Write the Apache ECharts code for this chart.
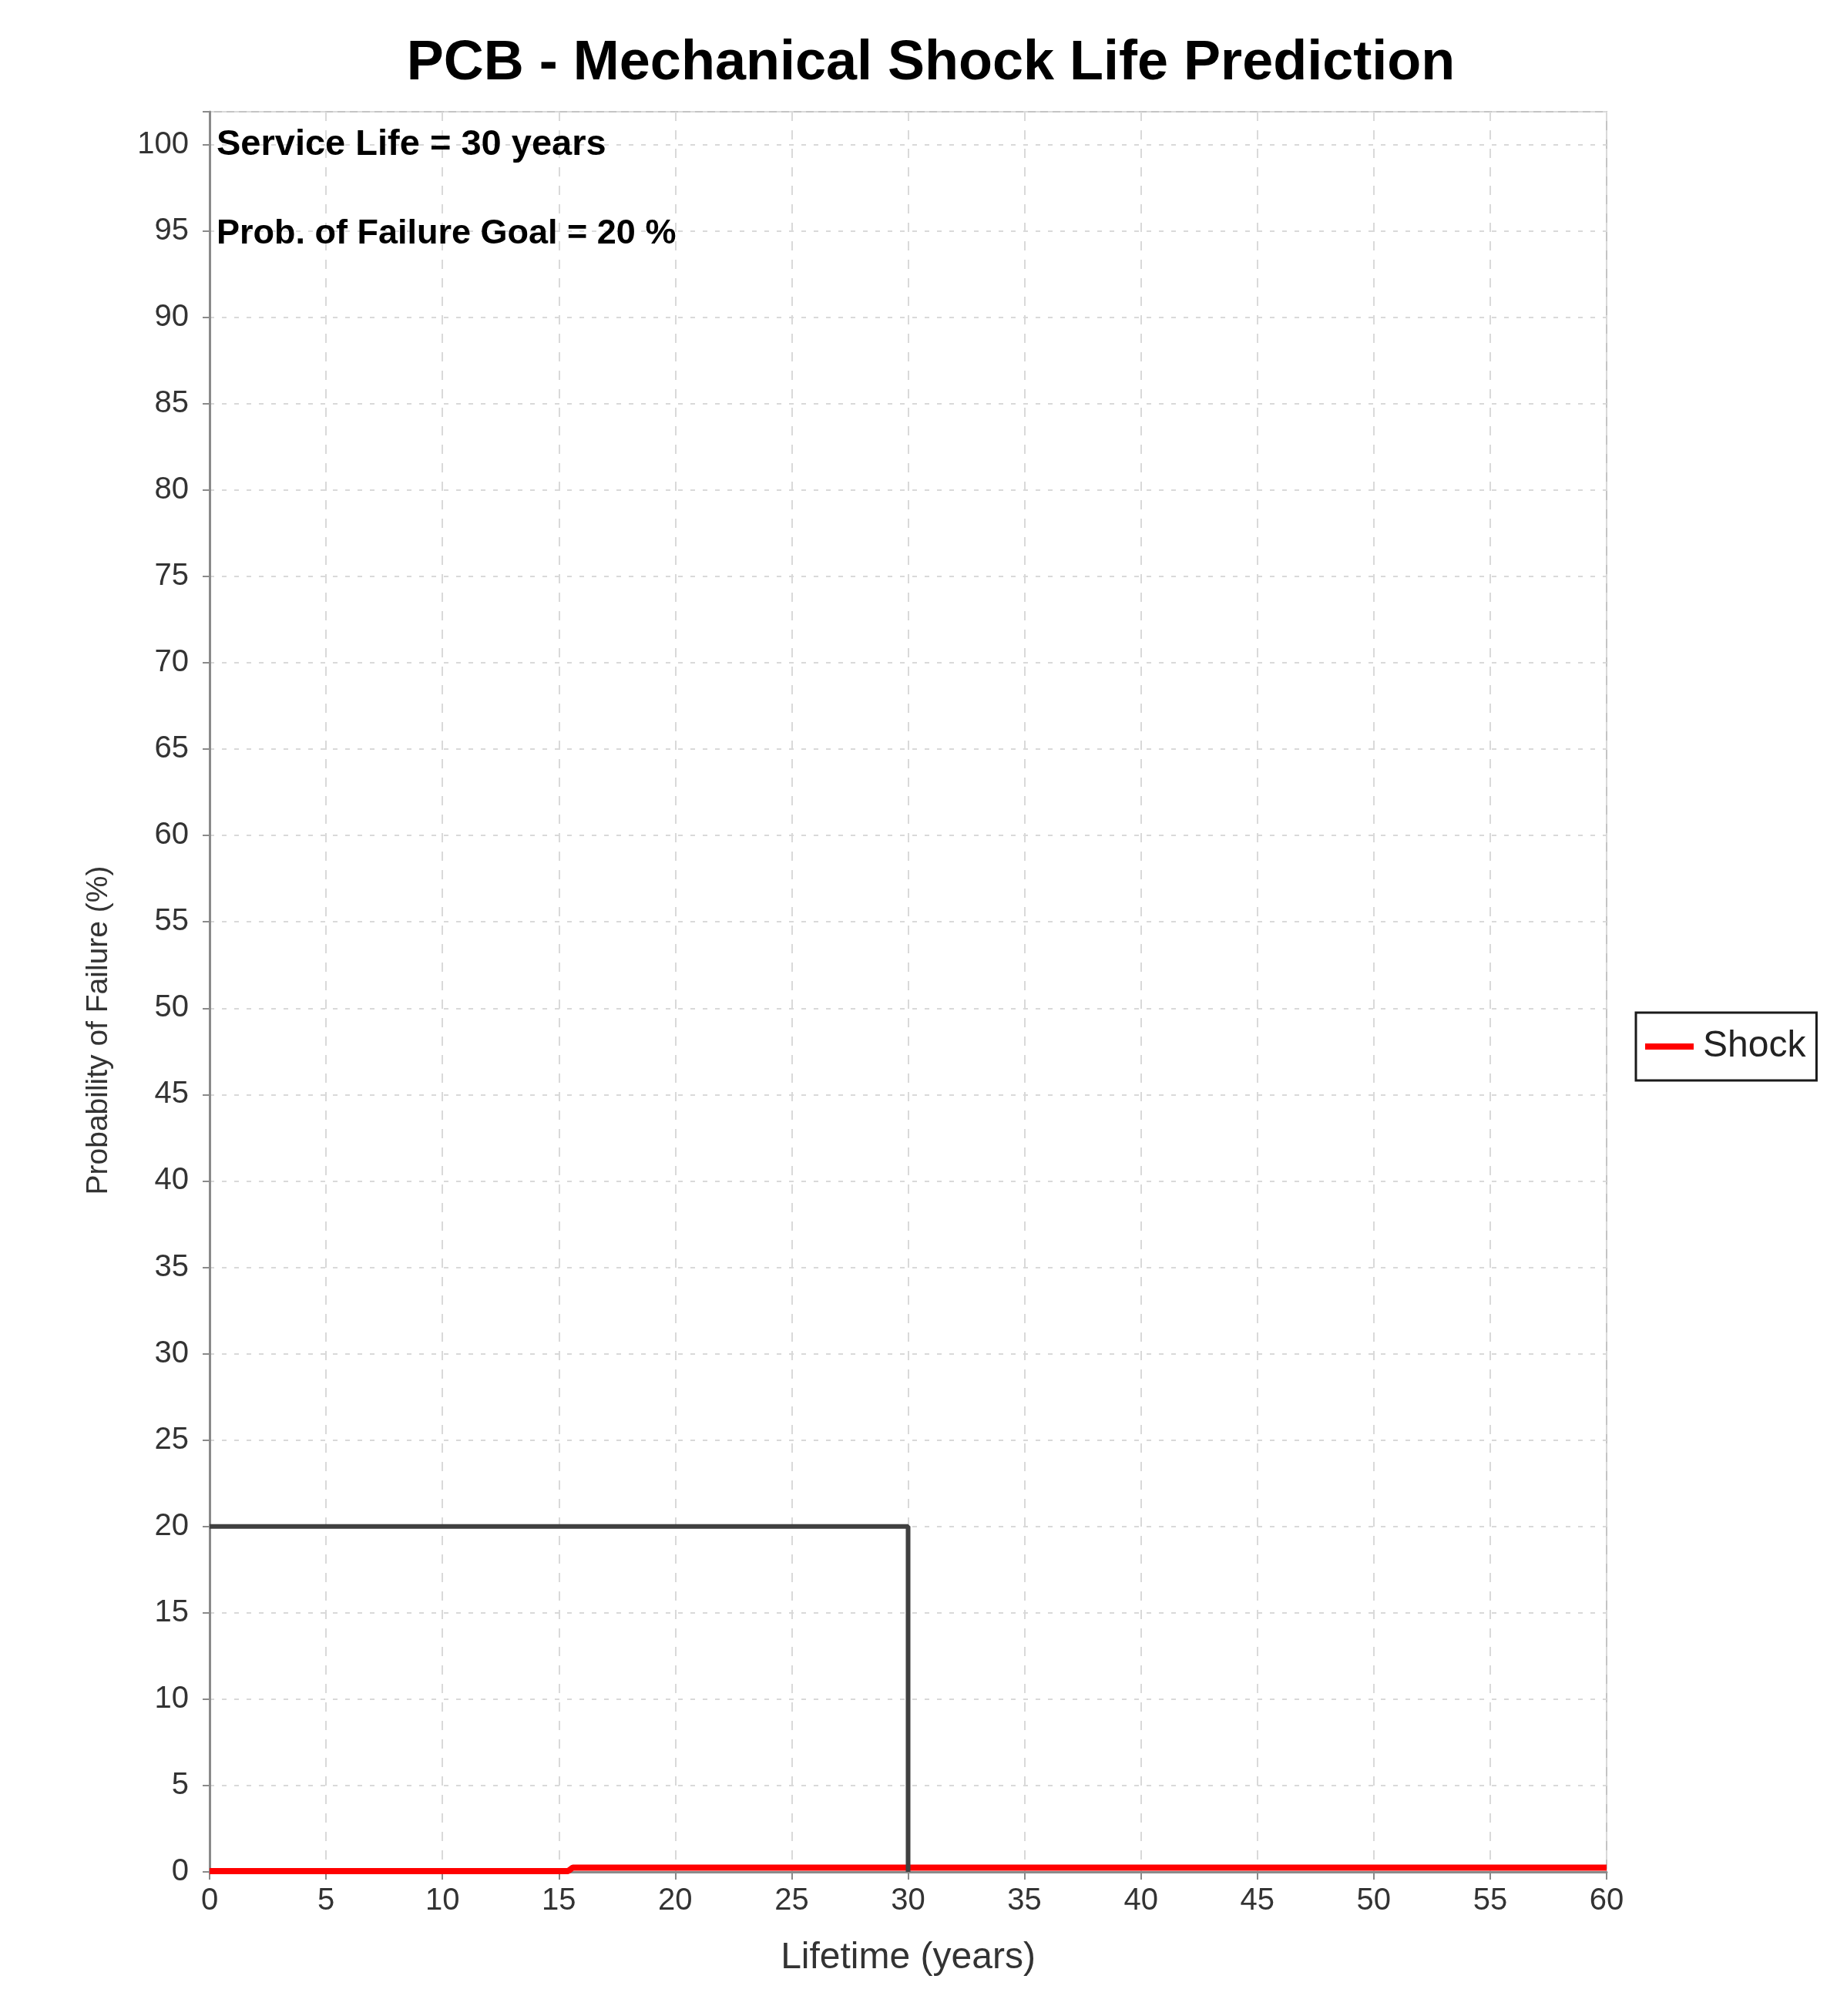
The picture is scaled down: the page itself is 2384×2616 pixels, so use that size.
<!DOCTYPE html>
<html>
<head>
<meta charset="utf-8">
<script src="https://cdn.jsdelivr.net/npm/echarts@6/dist/echarts.min.js"></script>
<style>
html,body{margin:0;padding:0;background:#fff;}
#chart{width:2384px;height:2616px;}
</style>
</head>
<body>
<div id="chart"></div>
<script>
// ---- data ----
const titleText = 'PCB - Mechanical Shock Life Prediction';
const xAxisName = 'Lifetime (years)';
const yAxisName = 'Probability of Failure (%)';
const annotations = ['Service Life = 30 years', 'Prob. of Failure Goal = 20 %'];
const seriesName = 'Shock';
const shockX = [0, 15.4, 15.6, 60];
const shockY = [0.05, 0.05, 0.25, 0.25];
const goalX = [0, 30, 30];
const goalY = [20, 20, 0];
const xMin = 0, xMax = 60, xStep = 5;
const yMin = 0, yMax = 101.9, yStep = 5;

const FONT = '"Liberation Sans", Arial, sans-serif';
const chart = echarts.init(document.getElementById('chart'));
const zip = (a, b) => a.map((v, i) => [v, b[i]]);

chart.setOption({
  animation: false,
  backgroundColor: '#ffffff',
  title: {
    text: titleText,
    left: 1203,
    top: 42,
    textAlign: 'center',
    textStyle: { fontFamily: FONT, fontSize: 72, fontWeight: 'bold', color: '#000' }
  },
  grid: {
    left: 272, right: 299, top: 145, bottom: 187,
    show: true, borderColor: '#c4c4c4', borderWidth: 2, backgroundColor: '#fff'
  },
  legend: {
    data: [seriesName],
    orient: 'vertical',
    left: 2123, top: 1314,
    borderColor: '#1a1a1a', borderWidth: 3, borderRadius: 0,
    padding: [20, 14, 20, 12],
    itemWidth: 63, itemHeight: 8,
    icon: 'rect',
    textStyle: { fontFamily: FONT, fontSize: 48, color: '#222', padding: [0, 0, 0, 7] }
  },
  xAxis: {
    type: 'value', min: xMin, max: xMax, interval: xStep,
    name: xAxisName, nameLocation: 'middle', nameGap: 88,
    nameTextStyle: { fontFamily: FONT, fontSize: 48, color: '#333' },
    axisLine: { show: true, onZero: false, lineStyle: { color: '#8a8a8a', width: 3 } },
    axisTick: { show: true, length: 10, lineStyle: { color: '#8a8a8a', width: 2 } },
    axisLabel: { fontFamily: FONT, fontSize: 40, color: '#333', margin: 18 },
    splitLine: { show: true, lineStyle: { color: '#d9d9d9', width: 2, type: [12, 12] } }
  },
  yAxis: {
    type: 'value', min: yMin, max: yMax, interval: yStep,
    name: yAxisName, nameLocation: 'middle', nameGap: 124, nameRotate: 90,
    nameTextStyle: { fontFamily: FONT, fontSize: 39, color: '#333', padding: [0, 100, 0, 0] },
    axisLine: { show: true, onZero: false, lineStyle: { color: '#8a8a8a', width: 3 } },
    axisTick: { show: true, length: 9, lineStyle: { color: '#8a8a8a', width: 2 } },
    axisLabel: {
      fontFamily: FONT, fontSize: 40, color: '#333', margin: 27,
      formatter: v => (Math.abs(v % yStep) < 1e-9 ? String(v) : '')
    },
    splitLine: { show: true, lineStyle: { color: '#d9d9d9', width: 2, type: [6, 10] } }
  },
  graphic: [
    { type: 'text', z: 100, left: 281, top: 165, style: { text: annotations[0], fontFamily: FONT, fontSize: 47, fontWeight: 'bold', fill: '#000' } },
    { type: 'text', z: 100, left: 281, top: 281, style: { text: annotations[1], fontFamily: FONT, fontSize: 45, fontWeight: 'bold', fill: '#000' } }
  ],
  series: [
    {
      name: seriesName, type: 'line', data: zip(shockX, shockY),
      showSymbol: false, symbol: 'none',
      lineStyle: { color: '#ff0000', width: 8 }, itemStyle: { color: '#ff0000' }, z: 2
    },
    {
      name: 'Goal', type: 'line', data: zip(goalX, goalY),
      showSymbol: false, symbol: 'none',
      lineStyle: { color: '#404040', width: 6 }, itemStyle: { color: '#404040' }, z: 3
    }
  ]
});
</script>
</body>
</html>
